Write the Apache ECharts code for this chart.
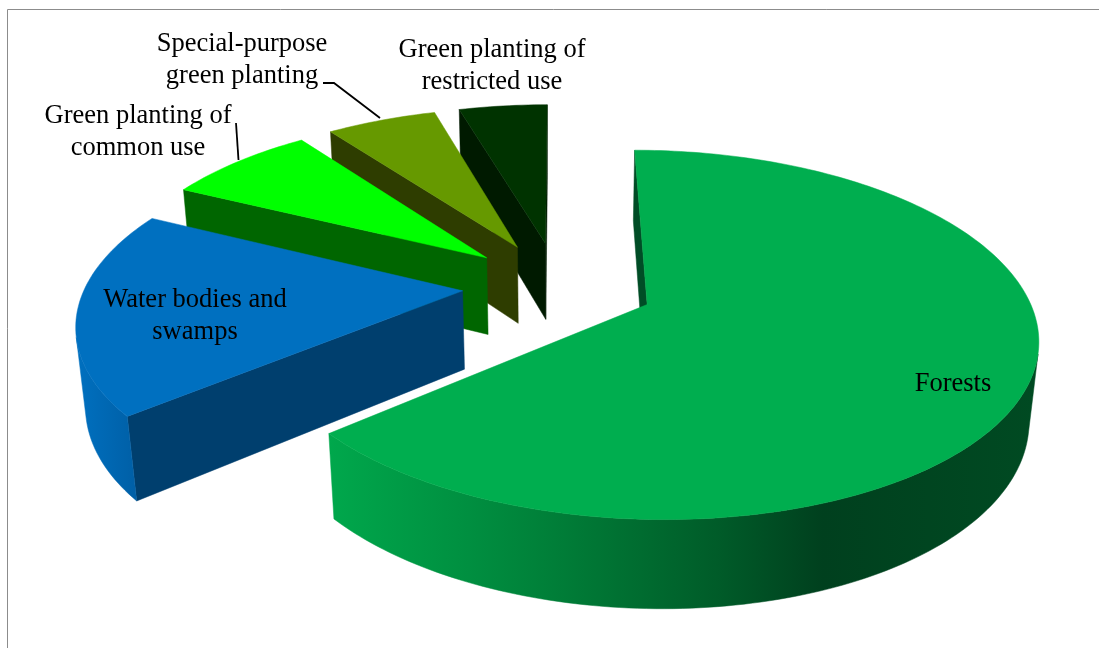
<!DOCTYPE html>
<html><head><meta charset="utf-8">
<style>html,body{margin:0;padding:0;background:#fff}#c{width:1099px;height:648px}</style>
<script src="https://cdn.jsdelivr.net/npm/echarts@6/dist/echarts.min.js"></script>
</head><body><div id="c"></div>
<script>
const categories = ['Forests','Water bodies and\nswamps','Green planting of\ncommon use','Special-purpose\ngreen planting','Green planting of\nrestricted use'];
const shares = [63.9, 18.4, 7.6, 5.6, 4.5];
const topColors = ['#00AE4F','#0070C0','#00FF00','#669900','#003300'];
const wallColors = ['#004D26','#003F6E','#006600','#2E3D00','#001A00'];
const arcColors = [
  {type:'linear',global:true,x:327,y:0,x2:1035,y2:0,colorStops:[
    {offset:0,color:'#00A84C'},{offset:0.2,color:'#008F40'},{offset:0.35,color:'#007A36'},
    {offset:0.55,color:'#005C29'},{offset:0.7,color:'#00401E'},{offset:1,color:'#004A22'}]},
  {type:'linear',global:true,x:80,y:0,x2:137,y2:0,colorStops:[{offset:0,color:'#006FBE'},{offset:1,color:'#005FA6'}]},
  '#006600','#2E3D00','#001A00'];
const labelAnchors = [[953,384],[195,316],[138,132],[242,60],[492,66]];
const leaders = [null,null,[[236,123],[238.5,160]],[[323,83],[334,83],[380,118]],null];

const VIEW = {cx:558.5,cy:285.5,scale:377,tilt:27.4*Math.PI/180,dist:5.5,height:0.238,explode:0.255,startDeg:0};

function project(x,y,z){
  const Y = y*Math.sin(VIEW.tilt)+z*Math.cos(VIEW.tilt);
  const D = y*Math.cos(VIEW.tilt)-z*Math.sin(VIEW.tilt);
  const s = VIEW.scale/(1+D/VIEW.dist);
  return [VIEW.cx+x*s, VIEW.cy-Y*s];
}
function area(p){let a=0;for(let i=0;i<p.length;i++){const q=p[(i+1)%p.length];a+=p[i][0]*q[1]-q[0]*p[i][1];}return a;}
const total = shares.reduce((a,b)=>a+b,0);

function renderSlice(params, api){
  const i = params.dataIndex;
  let acc = 0; for(let k=0;k<i;k++) acc += shares[k];
  const a0 = (VIEW.startDeg+acc/total*360)*Math.PI/180;
  const a1 = (VIEW.startDeg+(acc+api.value(0))/total*360)*Math.PI/180;
  const mid = (a0+a1)/2;
  const ox = VIEW.explode*Math.sin(mid), oy = VIEW.explode*Math.cos(mid);
  const P = (a,r,z)=>project(ox+r*Math.sin(a),oy+r*Math.cos(a),z);
  const h = -VIEW.height;
  const n = Math.max(6,Math.round((a1-a0)/0.02));
  const arcAngles=[]; for(let k=0;k<=n;k++) arcAngles.push(a0+(a1-a0)*k/n);
  const topPts=[P(a0,0,0)].concat(arcAngles.map(a=>P(a,1,0)));
  const children=[];
  let z2=(categories.length-i)*10;
  const poly=(pts,fill)=>children.push({type:'polygon',z2:z2++,shape:{points:pts},style:{fill,stroke:fill,lineWidth:0.5}});
  // radial walls, front-facing only
  const wall=(a,b)=>{const q=[a[0],b[0],b[1],a[1]];if(area(q)<0)poly(q,wallColors[i]);};
  wall([P(a0,0,0),P(a0,0,h)],[P(a0,1,0),P(a0,1,h)]);
  wall([P(a1,1,0),P(a1,1,h)],[P(a1,0,0),P(a1,0,h)]);
  // outer wall, the front-facing run of the arc
  const run=[];
  for(let k=0;k<n;k++){
    const q=[P(arcAngles[k],1,0),P(arcAngles[k+1],1,0),P(arcAngles[k+1],1,h),P(arcAngles[k],1,h)];
    if(area(q)<0){ if(!run.length) run.push(arcAngles[k]); run.push(arcAngles[k+1]); }
  }
  if(run.length){
    poly(run.map(a=>P(a,1,0)).concat(run.slice().reverse().map(a=>P(a,1,h))),arcColors[i]);
  }
  poly(topPts,topColors[i]);
  if(leaders[i]) children.push({type:'polyline',z2:500,shape:{points:leaders[i]},style:{fill:null,stroke:'#000',lineWidth:1.8}});
  children.push({type:'text',z2:600,style:{text:categories[i],x:labelAnchors[i][0],y:labelAnchors[i][1],
    align:'center',verticalAlign:'middle',fill:'#000',font:'26.5px "Liberation Serif"',lineHeight:31.5}});
  return {type:'group',children};
}

const chart = echarts.init(document.getElementById('c'),null,{renderer:'canvas'});
chart.setOption({
  animation:false,
  graphic:[
    {type:'line',shape:{x1:7.5,y1:9.5,x2:1099,y2:9.5},style:{stroke:'#8c8c8c',lineWidth:1}},
    {type:'line',shape:{x1:7.5,y1:9.5,x2:7.5,y2:648},style:{stroke:'#8c8c8c',lineWidth:1}}
  ],
  series:[{type:'custom',coordinateSystem:'none',renderItem:renderSlice,
    data:shares.map((v,i)=>({name:categories[i],value:[v]}))}]
});
</script></body></html>
